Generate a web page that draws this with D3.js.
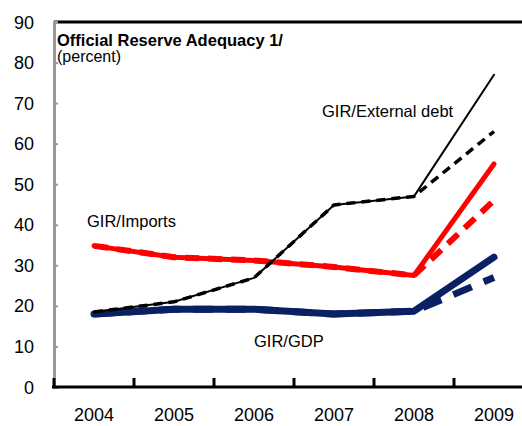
<!DOCTYPE html>
<html>
<head>
<meta charset="utf-8">
<script src="https://cdn.jsdelivr.net/npm/d3@7"></script>
<style>
  html, body { margin: 0; padding: 0; background: #fff; }
  svg { display: block; font-family: Arial, "Liberation Sans", sans-serif; }
</style>
</head>
<body>
<svg id="chart" width="522" height="426"></svg>
<script>
// Reserve adequacy ratios, percent
const years = ["2004", "2005", "2006", "2007", "2008", "2009"];
const extDebt     = [18.5, 21, 26.9, 44.9, 47, 77];
const extDebtAlt  = [18.5, 21, 26.9, 44.9, 47, 63];
const imports     = [34.8, 32, 31.2, 29.6, 27.5, 55];
const importsAlt  = [34.8, 32, 31.2, 29.6, 27.5, 46];
const gdp         = [18, 19.2, 19.2, 18, 18.7, 32];
const gdpAlt      = [18, 19.2, 19.2, 18, 18.7, 27];
const yTicks = [0, 10, 20, 30, 40, 50, 60, 70, 80, 90];

const svg = d3.select("#chart");

const x = d3.scaleBand().domain(years).range([54, 534]);
const y = d3.scaleLinear().domain([0, 90]).range([387, 22]);
const cx = d => x(d) + x.bandwidth() / 2;

// frame: top border line
svg.append("line")
  .attr("x1", 54).attr("x2", 522).attr("y1", y(90)).attr("y2", y(90))
  .attr("stroke", "#000").attr("stroke-width", 3);

// y axis (grey, inward ticks)
const yAxis = svg.append("g").attr("transform", "translate(54,0)")
  .call(d3.axisRight(y).tickValues(yTicks).tickSize(4).tickFormat(""));
yAxis.select(".domain").attr("stroke", "#999").attr("stroke-width", 3);
yAxis.selectAll(".tick line").attr("stroke", "#999").attr("stroke-width", 2);

svg.append("g").selectAll("text").data(yTicks).join("text")
  .attr("x", 34).attr("y", d => y(d) + 6.5)
  .attr("text-anchor", "end")
  .attr("font-size", 18).attr("fill", "#000")
  .text(d => d);

// x axis (black, ticks up at band edges)
const xAxisG = svg.append("g");
xAxisG.append("line")
  .attr("x1", 52).attr("x2", 522).attr("y1", y(0)).attr("y2", y(0))
  .attr("stroke", "#000").attr("stroke-width", 3);
xAxisG.selectAll("line.tk").data(years).join("line")
  .attr("class", "tk")
  .attr("x1", d => x(d)).attr("x2", d => x(d))
  .attr("y1", y(0)).attr("y2", y(0) - 9)
  .attr("stroke", "#000").attr("stroke-width", 3);
xAxisG.selectAll("text").data(years).join("text")
  .attr("x", d => cx(d)).attr("y", 421)
  .attr("text-anchor", "middle")
  .attr("font-size", 18).attr("fill", "#000")
  .text(d => d);

const line = d3.line().x((d, i) => cx(years[i])).y(d => y(d));

function draw(values, color, width, dash) {
  svg.append("path").datum(values)
    .attr("d", line)
    .attr("fill", "none")
    .attr("stroke", color)
    .attr("stroke-width", width)
    .attr("stroke-linejoin", "round")
    .attr("stroke-linecap", dash ? "butt" : "round")
    .attr("stroke-dasharray", dash || null);
}

const navy = "#0b1f63";
draw(gdpAlt, navy, 7, "20 13");
draw(gdp, navy, 7);
draw(importsAlt, "#ff0000", 6, "14 9");
draw(imports, "#ff0000", 5);
draw(extDebtAlt, "#000", 3.5, "9 6");
draw(extDebt, "#000", 2);

// titles and series labels
svg.append("text").attr("x", 57).attr("y", 46)
  .attr("font-size", 16.5).attr("font-weight", "bold")
  .text("Official Reserve Adequacy 1/");
svg.append("text").attr("x", 57).attr("y", 62)
  .attr("font-size", 16)
  .text("(percent)");

const labels = [
  { t: "GIR/External debt", x: 322, y: 117 },
  { t: "GIR/Imports", x: 87, y: 227 },
  { t: "GIR/GDP", x: 254, y: 347 }
];
svg.append("g").selectAll("text").data(labels).join("text")
  .attr("x", d => d.x).attr("y", d => d.y)
  .attr("font-size", 16.5).attr("fill", "#000")
  .text(d => d.t);
</script>
</body>
</html>
